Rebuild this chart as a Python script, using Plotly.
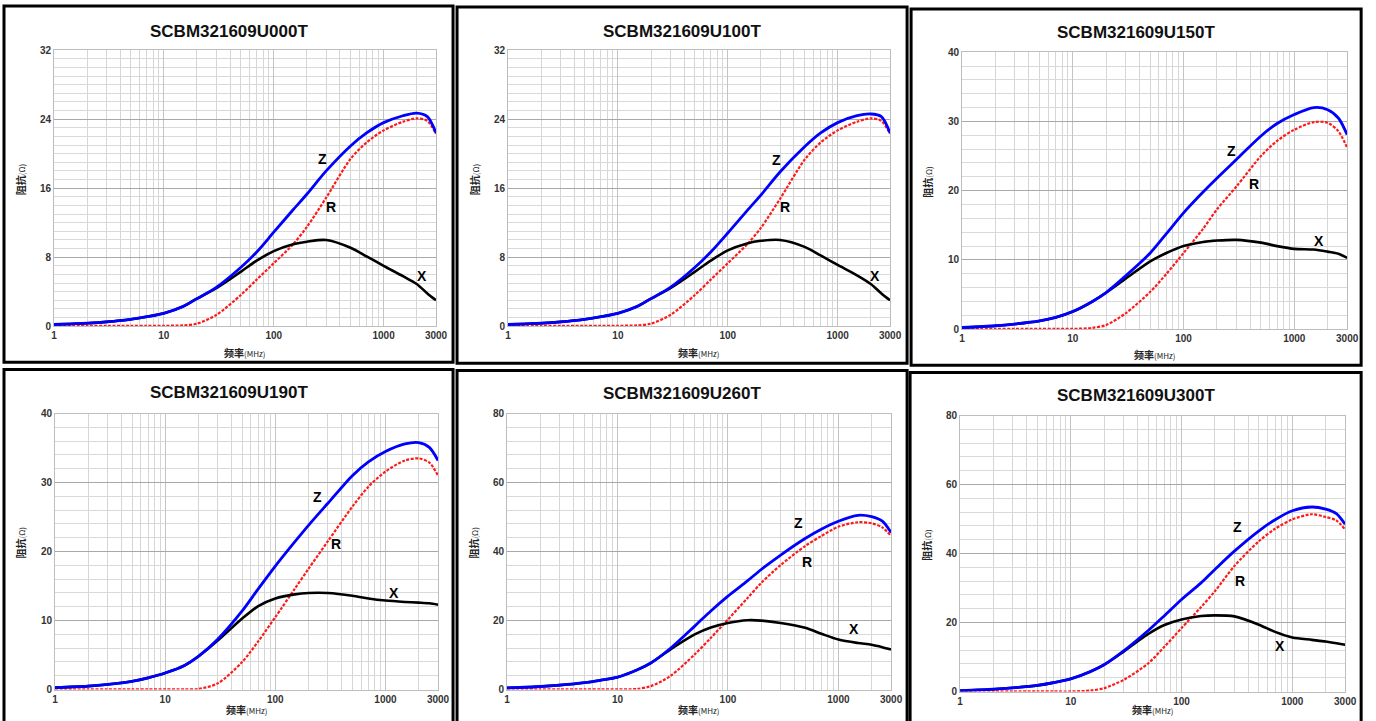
import math
import plotly.graph_objects as go

W, H = 1376, 721

FREQ = [1, 2, 3, 5, 7, 10, 15, 20, 30, 50, 70, 100, 150, 200, 300, 500, 700, 1000, 1500, 2000, 2500, 3000]

TITLES = ["SCBM321609U000T", "SCBM321609U100T", "SCBM321609U150T",
          "SCBM321609U190T", "SCBM321609U260T", "SCBM321609U300T"]

Z_000 = [0.2, 0.35, 0.5, 0.8, 1.1, 1.5, 2.3, 3.2, 4.5, 6.8, 8.6, 10.9, 13.5, 15.3, 18.0, 20.9, 22.4, 23.6, 24.4, 24.7, 24.3, 22.4]
R_000 = [0.05, 0.05, 0.05, 0.05, 0.05, 0.05, 0.1, 0.3, 1.3, 3.6, 5.4, 7.3, 9.5, 11.5, 14.9, 19.4, 21.3, 22.7, 23.7, 24.1, 23.8, 22.3]
X_000 = [0.2, 0.35, 0.5, 0.8, 1.1, 1.5, 2.3, 3.2, 4.4, 6.3, 7.6, 8.7, 9.5, 9.8, 10.0, 9.1, 8.1, 7.0, 5.8, 4.9, 3.8, 3.0]

Z_100 = [0.2, 0.35, 0.5, 0.8, 1.1, 1.5, 2.3, 3.2, 4.5, 6.8, 8.6, 10.8, 13.4, 15.2, 17.9, 20.8, 22.4, 23.6, 24.4, 24.6, 24.3, 22.4]
R_100 = [0.05, 0.05, 0.05, 0.05, 0.05, 0.05, 0.1, 0.3, 1.3, 3.6, 5.4, 7.3, 9.5, 11.4, 14.8, 19.3, 21.3, 22.7, 23.7, 24.1, 23.8, 22.3]
X_100 = [0.2, 0.35, 0.5, 0.8, 1.1, 1.5, 2.3, 3.2, 4.4, 6.3, 7.6, 8.8, 9.6, 9.9, 10.0, 9.2, 8.2, 7.1, 5.9, 4.9, 3.8, 3.0]

Z_150 = [0.25, 0.5, 0.75, 1.2, 1.7, 2.55, 4.0, 5.3, 7.7, 11.0, 13.8, 16.8, 19.8, 21.8, 24.5, 27.9, 29.7, 31.0, 32.0, 31.7, 30.5, 28.1]
R_150 = [0.05, 0.05, 0.05, 0.05, 0.05, 0.05, 0.2, 0.6, 2.3, 5.4, 8.0, 11.0, 14.5, 17.3, 20.6, 25.0, 27.2, 28.8, 29.9, 29.8, 28.6, 26.2]
X_150 = [0.25, 0.5, 0.75, 1.2, 1.7, 2.55, 4.0, 5.3, 7.3, 9.8, 11.0, 12.0, 12.6, 12.8, 12.9, 12.5, 12.0, 11.6, 11.5, 11.2, 10.9, 10.3]

Z_190 = [0.3, 0.5, 0.75, 1.2, 1.7, 2.4, 3.5, 4.8, 7.3, 11.4, 14.6, 17.9, 21.4, 23.8, 27.0, 31.0, 33.0, 34.5, 35.6, 35.8, 35.1, 33.2]
R_190 = [0.03, 0.03, 0.03, 0.03, 0.03, 0.03, 0.03, 0.1, 0.9, 4.0, 7.0, 10.5, 14.6, 17.5, 21.5, 26.5, 29.4, 31.6, 33.2, 33.5, 32.9, 31.0]
X_190 = [0.3, 0.5, 0.75, 1.2, 1.7, 2.4, 3.5, 4.8, 7.1, 10.3, 12.1, 13.2, 13.8, 14.0, 14.0, 13.6, 13.2, 12.9, 12.7, 12.6, 12.5, 12.3]

Z_260 = [0.5, 0.9, 1.3, 2.0, 2.7, 3.6, 5.7, 7.7, 11.9, 18.4, 22.8, 27.1, 31.5, 34.8, 39.0, 43.8, 46.5, 48.8, 50.5, 50.1, 48.8, 45.5]
R_260 = [0.05, 0.05, 0.05, 0.05, 0.05, 0.05, 0.2, 1.0, 3.9, 10.2, 15.0, 20.3, 26.5, 30.9, 36.1, 41.6, 44.5, 47.2, 48.5, 48.2, 47.0, 44.5]
X_260 = [0.5, 0.9, 1.3, 2.0, 2.7, 3.6, 5.7, 7.7, 11.6, 16.0, 18.0, 19.3, 20.1, 20.0, 19.3, 17.9, 16.2, 14.5, 13.5, 13.0, 12.3, 11.6]

Z_300 = [0.3, 0.7, 1.1, 1.8, 2.6, 3.7, 5.8, 7.8, 11.8, 17.7, 22.0, 26.7, 31.5, 35.4, 40.7, 46.6, 49.8, 52.4, 53.5, 52.9, 51.6, 48.5]
R_300 = [0.05, 0.05, 0.05, 0.05, 0.05, 0.05, 0.3, 1.0, 3.4, 8.2, 13.0, 18.4, 24.5, 29.1, 36.4, 43.6, 47.2, 49.9, 51.4, 50.6, 49.6, 47.0]
X_300 = [0.3, 0.7, 1.1, 1.8, 2.6, 3.7, 5.8, 7.8, 11.6, 16.7, 19.3, 20.9, 21.9, 22.1, 21.8, 19.4, 17.3, 15.7, 15.0, 14.5, 14.0, 13.6]

SERIES = [(Z_000, R_000, X_000), (Z_100, R_100, X_100), (Z_150, R_150, X_150),
          (Z_190, R_190, X_190), (Z_260, R_260, X_260), (Z_300, R_300, X_300)]

Y_MAX = [32, 32, 40, 40, 80, 80]
Y_STEP = [8, 8, 10, 10, 20, 20]
Y_MINOR = [1, 1, 2, 2, 4, 4]
X_TICKS = [1, 10, 100, 1000, 3000]

# layout (target pixels in the picture)
PLOT_PX = [(54, 436, 51, 326), (508, 890, 51, 326), (962, 1347, 53, 329),
           (55, 438, 413, 688), (507, 891, 413, 688), (960, 1345, 415, 690)]
BOX_PX = [(4, 453, 7, 362), (457, 907, 8, 363), (911, 1361, 10, 365),
          (4, 453, 369, 740), (457, 907, 370, 740), (910, 1361, 372, 740)]
TITLE_Y = [32, 32, 33, 392, 393, 395]
XLAB_Y = [352, 352, 354, 708, 708, 708]
# curve label positions (freq, value)
LABELS = [
    [("Z", 275, 19.4), ("R", 331, 13.8), ("X", 2230, 5.8)],
    [("Z", 276, 19.3), ("R", 330, 13.8), ("X", 2200, 5.8)],
    [("Z", 269, 25.8), ("R", 434, 21.0), ("X", 1680, 12.8)],
    [("Z", 239, 27.9), ("R", 355, 21.1), ("X", 1190, 14.0)],
    [("Z", 432, 48.3), ("R", 522, 37.0), ("X", 1390, 17.5)],
    [("Z", 318, 47.7), ("R", 338, 32.0), ("X", 777, 13.1)],
]

# calibration of the photographed page (figure appears slightly inset / scaled)
CX_OFF, CX_SCALE = 3.0, 0.989
CY_OFF, CY_SCALE = 7.0, 0.981


def px(x):
    return ((x - CX_OFF) / CX_SCALE) / W


def py(y):
    return 1 - ((y - CY_OFF) / CY_SCALE) / H


minor_x = [m * d for d in (1, 10, 100, 1000) for m in range(2, 10) if m * d < 3000]

FONT = "Liberation Sans, Arial, sans-serif"
CJK = "Noto Sans CJK SC"

fig = go.Figure()
layout = dict(width=W, height=H, autosize=False, margin=dict(l=0, r=0, t=0, b=0),
              paper_bgcolor="white", plot_bgcolor="white", showlegend=False,
              font=dict(family=FONT), annotations=[], shapes=[])

for i in range(6):
    n = "" if i == 0 else str(i + 1)
    x0, x1, y0, y1 = PLOT_PX[i]
    z, r, xv = SERIES[i]
    xa, ya = "x" + n, "y" + n
    for vals, col, dash, wd in ((r, "#ff1a1a", "3px,1.5px", 2.2),
                                (xv, "#000000", "solid", 2.6),
                                (z, "#0000ff", "solid", 2.8)):
        fig.add_trace(go.Scatter(x=FREQ, y=vals, mode="lines", xaxis=xa, yaxis=ya,
                                 line=dict(color=col, width=wd, dash=dash, shape="spline", smoothing=0.8),
                                 hoverinfo="skip"))
    layout["xaxis" + n] = dict(
        type="log", domain=[px(x0), px(x1)], anchor=ya,
        range=[0, math.log10(3000)], tickmode="array", tickvals=X_TICKS,
        ticktext=[str(t) for t in X_TICKS], ticks="",
        showgrid=True, gridcolor="#c4c4c4", gridwidth=1,
        minor=dict(tickmode="array", tickvals=minor_x, showgrid=True, gridcolor="#d6d6d6", gridwidth=1, ticks=""),
        showline=True, linecolor="#bdbdbd", linewidth=1, mirror=True, zeroline=False,
        tickfont=dict(family=FONT, size=10, color="#333333", weight="bold"), fixedrange=True)
    layout["yaxis" + n] = dict(
        domain=[py(y1), py(y0)], anchor=xa,
        range=[0, Y_MAX[i]], tickmode="linear", tick0=0, dtick=Y_STEP[i], ticks="",
        showgrid=True, gridcolor="#a8a8a8", gridwidth=1,
        minor=dict(dtick=Y_MINOR[i], showgrid=True, gridcolor="#d9d9d9", gridwidth=1, ticks=""),
        showline=True, linecolor="#bdbdbd", linewidth=1, mirror=True, zeroline=False,
        tickfont=dict(family=FONT, size=10, color="#333333", weight="bold"), fixedrange=True)

    bx0, bx1, by0, by1 = BOX_PX[i]
    layout["shapes"].append(dict(type="rect", xref="paper", yref="paper",
                                 x0=px(bx0), x1=px(bx1), y0=py(by1), y1=py(by0),
                                 line=dict(color="black", width=3), layer="above"))
    layout["annotations"].append(dict(text="<b>" + TITLES[i] + "</b>", xref="paper", yref="paper",
                                      x=px((bx0 + bx1) / 2), y=py(TITLE_Y[i]), showarrow=False,
                                      xanchor="center", yanchor="middle",
                                      font=dict(family=FONT, size=17, color="#111111")))
    layout["annotations"].append(dict(text="<b>阻抗</b><span style='font-size:8px'>(Ω)</span>",
                                      xref="paper", yref="paper", textangle=-90,
                                      x=px(x0 - 34), y=py((y0 + y1) / 2 - 8), showarrow=False,
                                      xanchor="center", yanchor="middle",
                                      font=dict(family=CJK, size=10, color="#222222")))
    layout["annotations"].append(dict(text="<b>频率</b><span style='font-size:8px'>(MHz)</span>",
                                      xref="paper", yref="paper",
                                      x=px((x0 + x1) / 2), y=py(XLAB_Y[i]), showarrow=False,
                                      xanchor="center", yanchor="middle",
                                      font=dict(family=CJK, size=10, color="#222222")))
    for lab, fx, fy in LABELS[i]:
        layout["annotations"].append(dict(text="<b>" + lab + "</b>", xref=xa, yref=ya,
                                          x=math.log10(fx), y=fy, showarrow=False,
                                          xanchor="center", yanchor="middle",
                                          font=dict(family=FONT, size=14, color="black")))

fig.update_layout(**layout)

POST = ("document.body.style.margin='0px';document.body.style.padding='0px';"
        "document.documentElement.style.overflow='hidden';"
        "var gd=document.getElementById('{plot_id}');"
        "Plotly.relayout(gd,{width:%d,height:%d});" % (W, H))
fig.write_html("out.html", config={"displayModeBar": False}, post_script=POST)
